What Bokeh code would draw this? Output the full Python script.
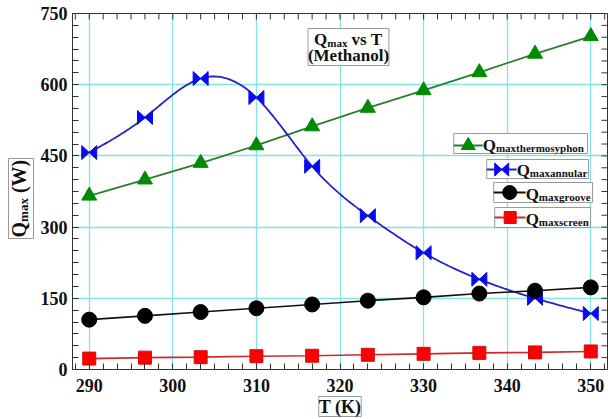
import numpy as np
from bokeh.plotting import figure
from bokeh.layouts import row
from bokeh.models import Range1d, Label, SingleIntervalTicker, Title
from bokeh.embed import file_html
from bokeh.resources import INLINE

# ---------------- data ----------------
T = [290, 296.67, 303.33, 310, 316.67, 323.33, 330, 336.67, 343.33, 350]
Q_thermosyphon = [366, 400, 435, 472, 512, 551, 588, 626, 665, 702]
Q_annular = [457, 531, 613, 573, 428, 324, 246, 190, 150, 118]
Q_groove = [105, 113, 121, 129, 137, 145, 152, 160, 166, 173]
Q_screen = [23, 25, 26, 28, 29, 31, 33, 35, 36, 38]
x_tick_interval = 10
y_tick_interval = 150

FONT = "Liberation Serif"
X_RANGE = (288, 352)
Y_RANGE = (0, 750)
PAGE_W, PAGE_H = 608, 419
STRIP_W = 37                       # left strip holding the y-axis title
W, H = PAGE_W - STRIP_W, PAGE_H
BL, BR, BT, BB = 34, 1, 13, 50
FW, FH = W - BL - BR, H - BT - BB
FRAME_L, FRAME_B = STRIP_W + BL, BT + FH   # page coords of frame corner

p = figure(width=W, height=H,
           x_range=Range1d(*X_RANGE), y_range=Range1d(*Y_RANGE),
           output_backend="svg", toolbar_location=None,
           min_border_left=BL, min_border_right=BR, min_border_top=BT,
           min_border_bottom=BB, background_fill_color="white",
           border_fill_color="white")
p.outline_line_color = "#333333"

# page-pixel coordinate system tied to the frame (for in-frame layout)
p.extra_x_ranges = {"px": Range1d(FRAME_L, FRAME_L + FW)}
p.extra_y_ranges = {"py": Range1d(FRAME_B, FRAME_B - FH)}

xt = SingleIntervalTicker(interval=x_tick_interval, num_minor_ticks=6)
yt = SingleIntervalTicker(interval=y_tick_interval, num_minor_ticks=6)
p.xaxis.ticker = xt
p.yaxis.ticker = yt
p.xgrid.ticker = xt
p.ygrid.ticker = yt
for g in (p.xgrid, p.ygrid):
    g.grid_line_color = "#86e3e3"
    g.grid_line_width = 1.3

for ax in (p.xaxis[0], p.yaxis[0]):
    ax.major_tick_in = 6
    ax.major_tick_out = 0
    ax.minor_tick_in = 6
    ax.minor_tick_out = 0
    ax.axis_line_color = "#333333"
    ax.major_tick_line_color = "#333333"
    ax.minor_tick_line_color = "#333333"
    ax.major_label_text_font = FONT
    ax.major_label_text_font_style = "bold"
    ax.major_label_text_font_size = "18px"
    ax.major_label_text_color = "#111111"
p.xaxis[0].major_label_standoff = 9
p.yaxis[0].major_label_standoff = 5

# x-axis title in a bordered box below the axis
p.add_layout(Title(text="T (K)", align="center", text_font=FONT,
                   text_font_style="bold", text_font_size="18px",
                   text_color="#111111", border_line_color="#9a9a9a",
                   background_fill_color="white", standoff=0), "below")

kx = FW / (X_RANGE[1] - X_RANGE[0])
ky = FH / (Y_RANGE[1] - Y_RANGE[0])

# inward ticks along the top and right frame edges (mirroring the axes)
TICK = 6
step_x = x_tick_interval / 6.0
x_minor = 290 + step_x * np.arange(-1, 38)
x_minor = x_minor[(x_minor > X_RANGE[0]) & (x_minor < X_RANGE[1])]
y_minor = np.arange(Y_RANGE[0], Y_RANGE[1] + 1e-9, y_tick_interval / 6.0)
p.segment(x0=x_minor, y0=[Y_RANGE[1]] * len(x_minor), x1=x_minor,
          y1=[Y_RANGE[1] - TICK / ky] * len(x_minor), line_color="#333333",
          line_width=1)
p.segment(x0=[X_RANGE[1]] * len(y_minor), y0=y_minor,
          x1=[X_RANGE[1] - TICK / kx] * len(y_minor), y1=y_minor,
          line_color="#333333", line_width=1)


def natural_spline(x, y, n=300):
    x = np.asarray(x, float)
    y = np.asarray(y, float)
    m = len(x)
    h = np.diff(x)
    A = np.zeros((m, m))
    b = np.zeros(m)
    A[0, 0] = A[-1, -1] = 1
    for i in range(1, m - 1):
        A[i, i - 1] = h[i - 1]
        A[i, i] = 2 * (h[i - 1] + h[i])
        A[i, i + 1] = h[i]
        b[i] = 3 * ((y[i + 1] - y[i]) / h[i] - (y[i] - y[i - 1]) / h[i - 1])
    c = np.linalg.solve(A, b)
    xs = np.linspace(x[0], x[-1], n)
    idx = np.clip(np.searchsorted(x, xs) - 1, 0, m - 2)
    dx = xs - x[idx]
    hb = h[idx]
    bb = (y[idx + 1] - y[idx]) / hb - hb * (2 * c[idx] + c[idx + 1]) / 3
    d = (c[idx + 1] - c[idx]) / (3 * hb)
    return xs, y[idx] + bb * dx + c[idx] * dx ** 2 + d * dx ** 3


def bowtie_polys(xv, yv, hw, hh, sx=1.0, sy=1.0):
    xs, ys = [], []
    for a, b in zip(xv, yv):
        dx, dy = hw / sx, hh / sy
        xs.append([a - dx, a - dx, a])
        ys.append([b + dy, b - dy, b])
        xs.append([a + dx, a + dx, a])
        ys.append([b + dy, b - dy, b])
    return xs, ys


# ---------------- series ----------------
GREEN_L, GREEN_M = "#2b7f2b", "#008a00"
BLUE_L, BLUE_M = "#2424c4", "#0a0aee"
BLACK_L, BLACK_M = "#111111", "#000000"
RED_L, RED_M = "#cc2a2a", "#ff0000"

p.line(T, Q_thermosyphon, line_color=GREEN_L, line_width=1.8)
p.scatter(T, Q_thermosyphon, marker="triangle", size=15,
          fill_color=GREEN_M, line_color=GREEN_M)

sx_, sy_ = natural_spline(T, Q_annular)
p.line(sx_, sy_, line_color=BLUE_L, line_width=1.8)
bx, by = bowtie_polys(T, Q_annular, 7.5, 7.0, kx, ky)
p.patches(bx, by, fill_color=BLUE_M, line_color=BLUE_M, line_width=1)

p.line(T, Q_groove, line_color=BLACK_L, line_width=1.6)
p.scatter(T, Q_groove, marker="circle", size=15,
          fill_color=BLACK_M, line_color=BLACK_M)

p.line(T, Q_screen, line_color=RED_L, line_width=1.6)
p.scatter(T, Q_screen, marker="square", size=13,
          fill_color=RED_M, line_color="#d01010")

# ---------------- text helpers ----------------
WID = {"Q": 778, "m": 833, "a": 500, "x": 500, " ": 250}


def tw(s, size):
    return sum(WID.get(ch, 500) for ch in s) * size / 1000.0


def dy(size):
    # empirical correction between requested and drawn baseline
    return 0.28 * size


def label(fig, x, y, s, size, angle=0, align="left", names=True):
    kw = dict(x_range_name="px", y_range_name="py") if names else {}
    if angle == 0:
        y = y - dy(size)
    else:
        x = x - dy(size)
    fig.add_layout(Label(x=x, y=y, text=s, text_font=FONT,
                         text_font_style="bold", text_font_size=f"{size}px",
                         text_color="#111111", angle=angle, angle_units="deg",
                         text_align=align, text_baseline="alphabetic", **kw))


PX = dict(x_range_name="px", y_range_name="py")
BOX = dict(fill_color="white", line_color="#9a9a9a", line_width=1)
BIG, SMALL = 17, 11

# title box
p.quad(left=[307], right=[388], top=[28], bottom=[65], **BOX, **PX)
x0 = 313
label(p, x0, 44, "Q", BIG)
label(p, x0 + tw("Q", BIG), 45.5, "max", SMALL)
label(p, x0 + tw("Q", BIG) + tw("max", SMALL) + tw(" ", BIG), 44, "vs T", BIG)
label(p, 347.5, 59.5, "(Methanol)", BIG, align="center")

# ---------------- legend ----------------
legend_rows = [
    # box l, r, t, b, line x0, x1, y, text x, baseline, sub
    (453, 587, 133, 153, 453, 482, 145, 482, 149.5, "maxthermosyphon", "tri"),
    (486, 588, 159, 178, 486, 516, 169, 516, 174.5, "maxannular", "bow"),
    (493, 592, 182, 202, 493, 525, 192, 525, 198.5, "maxgroove", "cir"),
    (494, 590, 207, 227, 494, 525, 217, 525, 223.5, "maxscreen", "sq"),
]
line_cols = {"tri": GREEN_L, "bow": BLUE_L, "cir": BLACK_L, "sq": RED_L}
for (l, r, t, b, lx0, lx1, ly, tx, tb, sub, kind) in legend_rows:
    p.quad(left=[l], right=[r], top=[t], bottom=[b], **BOX, **PX)
    p.line([lx0, lx1], [ly, ly], line_color=line_cols[kind], line_width=1.8, **PX)
    mx = (lx0 + lx1) / 2
    if kind == "tri":
        p.scatter([mx], [ly], marker="triangle", size=14, fill_color=GREEN_M,
                  line_color=GREEN_M, **PX)
    elif kind == "bow":
        lbx, lby = bowtie_polys([mx], [ly], 7.0, 6.5, 1.0, -1.0)
        p.patches(lbx, lby, fill_color=BLUE_M, line_color=BLUE_M, **PX)
    elif kind == "cir":
        p.scatter([mx], [ly], marker="circle", size=14, fill_color=BLACK_M,
                  line_color=BLACK_M, **PX)
    else:
        p.scatter([mx], [ly], marker="square", size=12, fill_color=RED_M,
                  line_color="#d01010", **PX)
    label(p, tx, tb, "Q", BIG)
    label(p, tx + tw("Q", BIG), tb + 1.5, sub, SMALL)

# ---------------- left strip: rotated y-axis title ----------------
# the row layout aligns this strip's frame with the main frame vertically,
# so its y range spans the same page rows as the main frame
pl = figure(width=STRIP_W, height=H, x_range=Range1d(0, STRIP_W),
            y_range=Range1d(FRAME_B, BT), output_backend="svg",
            toolbar_location=None, x_axis_location=None,
            y_axis_location=None, min_border=0,
            background_fill_color="white", border_fill_color="white")
pl.outline_line_color = None
pl.grid.visible = False
pl.quad(left=[8], right=[33], top=[158], bottom=[238], **BOX)
YB, YS = 20, 13
yb = 237
label(pl, 24, yb, "Q", YB, angle=90, names=False)
label(pl, 27, yb - tw("Q", YB), "max", YS, angle=90, names=False)
label(pl, 24, yb - tw("Q", YB) - tw("max", YS) - tw(" ", YB), "(W)", YB,
      angle=90, names=False)

layout = row(pl, p, spacing=0)
open("out.html", "w").write(file_html(layout, INLINE))
